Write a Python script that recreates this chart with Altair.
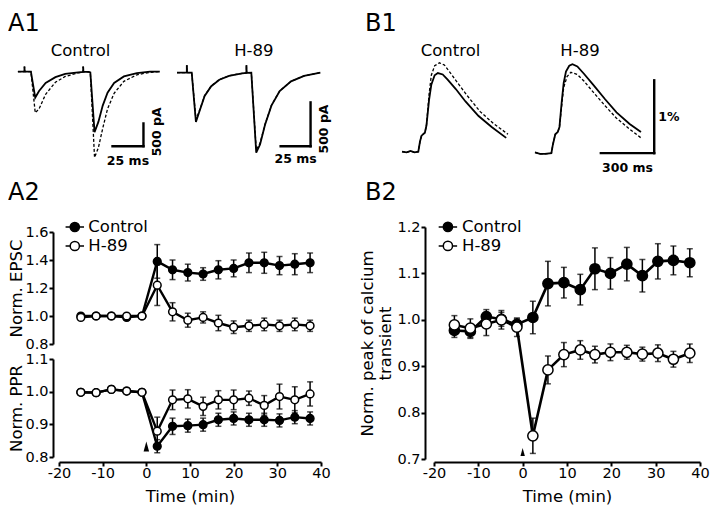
import altair as alt
import pandas as pd

FONT = "DejaVu Sans"

# ---------------- A2 : time course (min) ----------------
time_a2 = [-15, -11.5, -8, -4.5, -1, 2.5, 6, 9.5, 13, 16.5, 20, 23.5, 27, 30.5, 34, 37.5]
epsc_control = [1.00, 1.00, 1.00, 0.99, 1.00, 1.39, 1.33, 1.31, 1.30, 1.33, 1.34, 1.38, 1.38, 1.36, 1.37, 1.38]
epsc_control_err = [0.01, 0.01, 0.01, 0.01, 0.01, 0.12, 0.07, 0.06, 0.045, 0.065, 0.06, 0.07, 0.075, 0.065, 0.075, 0.07]
epsc_h89 = [0.99, 1.00, 1.00, 1.00, 1.00, 1.22, 1.03, 0.97, 0.99, 0.95, 0.92, 0.93, 0.94, 0.93, 0.94, 0.93]
epsc_h89_err = [0.01, 0.01, 0.01, 0.01, 0.01, 0.145, 0.065, 0.05, 0.04, 0.055, 0.045, 0.04, 0.045, 0.04, 0.045, 0.04]

ppr_control = [0.998, 0.997, 1.007, 1.002, 0.998, 0.833, 0.894, 0.896, 0.899, 0.914, 0.918, 0.914, 0.914, 0.912, 0.922, 0.918]
ppr_control_err = [0.004, 0.004, 0.004, 0.004, 0.004, 0.02, 0.025, 0.02, 0.02, 0.02, 0.02, 0.02, 0.02, 0.02, 0.02, 0.02]
ppr_h89 = [0.998, 0.997, 1.007, 1.002, 0.998, 0.879, 0.975, 0.978, 0.955, 0.975, 0.975, 0.980, 0.958, 0.985, 0.975, 0.993]
ppr_h89_err = [0.004, 0.004, 0.004, 0.004, 0.004, 0.043, 0.03, 0.028, 0.028, 0.028, 0.03, 0.022, 0.03, 0.038, 0.04, 0.037]

# ---------------- B2 : time course (min) ----------------
time_b2 = [-15.4, -11.8, -8.2, -4.8, -1.3, 2.3, 5.7, 9.3, 13.0, 16.3, 19.8, 23.5, 27.0, 30.5, 34.0, 37.7]
ca_control = [0.977, 0.975, 1.007, 1.001, 0.990, 1.005, 1.078, 1.080, 1.065, 1.110, 1.100, 1.120, 1.095, 1.126, 1.128, 1.123]
ca_control_err = [0.015, 0.015, 0.015, 0.015, 0.012, 0.035, 0.048, 0.033, 0.033, 0.045, 0.034, 0.036, 0.035, 0.038, 0.031, 0.03]
ca_h89 = [0.989, 0.982, 0.991, 1.000, 0.984, 0.750, 0.892, 0.925, 0.935, 0.925, 0.930, 0.930, 0.926, 0.928, 0.915, 0.928]
ca_h89_err = [0.02, 0.02, 0.025, 0.02, 0.02, 0.038, 0.03, 0.026, 0.02, 0.018, 0.018, 0.015, 0.015, 0.018, 0.017, 0.02]

arrow_time = [0]
arrow_ppr = [0.832]
arrow_ca = [0.715]

# ---------------- A1 : EPSC traces (ms, pA) ----------------
a1c_t = [0, 5.3, 5.3, 5.5, 10.5, 14.0, 17.1, 22.4, 30.3, 38.2, 48.7, 52.7, 52.7, 52.9, 57.1, 58.5,
         61.9, 65.0, 68.5, 72.4, 77.7, 85.6, 96.1, 106.7, 114.6]
a1c_solid = [0, 0, 110, 0, 0, -571, -428, -250, -122, -49, -15, -5, 110, -5, -6, -20,
             -1333, -1106, -749, -464, -250, -107, -36, 0, 0]
a1c_dashed = [0, 0, 110, 0, 0, -905, -820, -499, -235, -107, -30, -8, 110, -8, -8, -25,
              -1890, -1676, -1248, -820, -477, -214, -71, -15, 0]
a1c_bar_t = [76.4, 101.4]
a1c_bar_v = [-1641, -1141]

a1h_t = [0, 8.2, 8.2, 8.4, 12.3, 15.8, 19.0, 23.1, 28.6, 35.4, 43.5, 54.4, 58.0, 58.0, 58.2, 62.1,
         66.2, 69.4, 73.5, 78.9, 85.8, 95.3, 106.2, 119.8]
a1h_solid = [0, 0, 85, 0, 0, -563, -433, -266, -155, -81, -37, -8, -3, 85, -3, 0,
             -914, -821, -599, -377, -211, -100, -37, 0]
a1h_dashed = [0, 0, 85, 0, 0, -535, -425, -262, -152, -79, -36, -8, -3, 85, -3, 0,
              -880, -805, -592, -373, -209, -99, -37, 0]
a1h_bar_t = [86.6, 111.6]
a1h_bar_v = [-840, -340]

# ---------------- B1 : calcium traces (ms, %) ----------------
b1c_t = [0, 25.6, 47.4, 69.2, 91, 100.3, 109, 127.5, 136.3, 151, 163.5, 182, 200, 227, 254.5, 300, 354, 427, 500, 581]
b1c_solid = [0.00, -0.01, 0.01, -0.01, 0.00, 0.14, 0.22, 0.26, 0.36, 0.71, 0.92, 1.05, 1.08, 1.06, 0.99, 0.86, 0.69, 0.49, 0.34, 0.19]
b1c_dashed_t = [0, 25.6, 47.4, 69.2, 91, 100.3, 109, 127.5, 136.3, 151, 163.5, 182, 209, 236.5, 264, 309, 363.5, 436, 509, 591]
b1c_dashed = [0.00, -0.01, 0.01, -0.01, 0.00, 0.14, 0.22, 0.26, 0.36, 0.79, 1.05, 1.18, 1.22, 1.19, 1.10, 0.95, 0.77, 0.55, 0.39, 0.24]

b1h_t = [0, 27.5, 55, 92, 100.7, 114, 128, 137.5, 150, 161, 174, 192.5, 210.5, 238, 275, 330, 394, 458, 532, 595.5]
b1h_solid = [0.01, -0.01, -0.01, 0.0, 0.12, 0.26, 0.29, 0.36, 0.70, 0.96, 1.12, 1.20, 1.22, 1.19, 1.09, 0.93, 0.74, 0.56, 0.40, 0.29]
b1h_dashed_t = [0, 27.5, 55, 92, 100.7, 114, 128, 137.5, 150, 161, 180, 202, 238, 275, 330, 394, 458, 532, 595.5]
b1h_dashed = [0.01, -0.01, -0.01, 0.0, 0.12, 0.26, 0.29, 0.36, 0.65, 0.90, 1.05, 1.11, 1.08, 0.99, 0.83, 0.65, 0.48, 0.33, 0.21]
b1_bar_t = [370, 670]
b1_bar_v = [0.0, 1.0]

x_ticks = [-20, -10, 0, 10, 20, 30, 40]
epsc_ticks = [0.8, 1.0, 1.2, 1.4, 1.6]
ppr_ticks = [0.8, 0.9, 1.0, 1.1]
ca_ticks = [0.7, 0.8, 0.9, 1.0, 1.1, 1.2]

LEG_PATH = "M-1,0H-0.5M0.5,0H1M-0.5,0A0.5,0.5,0,1,1,0.5,0A0.5,0.5,0,1,1,-0.5,0Z"
TRI_PATH = "M0,-1L0.55,1L-0.55,1Z"


def tc_frame(t, c, ce, h, he):
    rows = []
    for cond, vals, errs in (("Control", c, ce), ("H-89", h, he)):
        for ti, v, e in zip(t, vals, errs):
            rows.append({"t": ti, "v": v, "lo": v - e, "hi": v + e, "cond": cond})
    return pd.DataFrame(rows)


def make_axis(**kw):
    base = dict(domainColor="black", domainWidth=2, tickColor="black", tickWidth=2, tickSize=4,
                labelFont=FONT, labelFontSize=14.5, labelColor="black", labelPadding=1, labelFlush=False,
                titleFont=FONT, titleFontSize=16.5, titleFontWeight="normal", titleColor="black",
                grid=False)
    base.update(kw)
    return alt.Axis(**base)


def x_axis(offset):
    return make_axis(values=x_ticks, labelExpr="datum.value", offset=offset, labelPadding=0,
                     title="Time (min)", titlePadding=9)


def panel_title(text, dx, offset, size=24, anchor="start"):
    return alt.TitleParams(text, anchor=anchor, frame="group", dx=dx, offset=offset, baseline="alphabetic",
                           font=FONT, fontSize=size, fontWeight="normal", color="black")


def time_chart(df, ydom, yaxis, xaxis, width, height, ptsize, lw, legend, arrow_v, arrow_size, title=None):
    xenc = alt.X("t:Q", scale=alt.Scale(domain=[-20, 40], nice=False, zero=False), axis=xaxis)

    def yenc(field):
        return alt.Y(f"{field}:Q", scale=alt.Scale(domain=ydom, nice=False, zero=False), axis=yaxis)

    base = alt.Chart(df)
    bars = base.mark_rule(color="black", strokeWidth=1.5).encode(x=xenc, y=yenc("lo"), y2="hi:Q", detail="cond:N")
    caps = base.transform_fold(["lo", "hi"], as_=["end", "cap"]).mark_tick(
        orient="horizontal", color="black", size=6, thickness=1.5).encode(x=xenc, y=yenc("cap"), detail="cond:N")
    line = base.mark_line(color="black", strokeWidth=lw).encode(x=xenc, y=yenc("v"), detail="cond:N")
    pts = base.mark_point(shape="circle", filled=True, stroke="black", strokeWidth=1.5, size=ptsize, opacity=1).encode(
        x=xenc, y=yenc("v"),
        fill=alt.Fill("cond:N", scale=alt.Scale(domain=["Control", "H-89"], range=["black", "white"]), legend=legend))
    arrow = alt.Chart(pd.DataFrame({"t": arrow_time, "v": arrow_v})).mark_point(
        shape=TRI_PATH, filled=True, color="black", size=arrow_size, opacity=1).encode(x=xenc, y=yenc("v"))
    ch = alt.layer(bars, caps, line, pts, arrow).properties(width=width, height=height)
    if title is not None:
        ch = ch.properties(title=title)
    return ch


def trace_panel(ts, vs, td, vd, xdom, width, ydom, height, title, xrange=None, bar=None):
    solid = pd.DataFrame({"t": ts, "v": vs, "i": list(range(len(ts)))})
    dashed = pd.DataFrame({"t": td, "v": vd, "i": list(range(len(td)))})
    sc = dict(domain=xdom, nice=False, zero=False)
    if xrange is not None:
        sc["range"] = xrange
    x = alt.X("t:Q", scale=alt.Scale(**sc), axis=None)
    y = alt.Y("v:Q", scale=alt.Scale(domain=ydom, nice=False, zero=False), axis=None)
    layers = [
        alt.Chart(dashed).mark_line(color="black", strokeWidth=1.3, strokeDash=[3, 2]).encode(x=x, y=y, order="i:Q"),
        alt.Chart(solid).mark_line(color="black", strokeWidth=1.8).encode(x=x, y=y, order="i:Q"),
    ]
    if bar is not None:
        bt, bv, hlabel, vlabel, hdy, vdx, vshift, rotate = bar
        hbar = pd.DataFrame({"t": [bt[0]], "t2": [bt[1]], "v": [bv[0]]})
        vbar = pd.DataFrame({"t": [bt[1]], "v": [bv[0]], "v2": [bv[1]]})
        layers.append(alt.Chart(hbar).mark_rule(color="black", strokeWidth=2.4, strokeCap="square").encode(x=x, x2="t2:Q", y=y))
        layers.append(alt.Chart(vbar).mark_rule(color="black", strokeWidth=2.4, strokeCap="square").encode(x=x, y=y, y2="v2:Q"))
        hl = pd.DataFrame({"t": [(bt[0] + bt[1]) / 2], "v": [bv[0]], "label": [hlabel]})
        vl = pd.DataFrame({"t": [bt[1]], "v": [(bv[0] + bv[1]) / 2], "label": [vlabel]})
        layers.append(alt.Chart(hl).mark_text(font=FONT, fontSize=12.5, fontWeight="bold", color="black",
                                              align="center", baseline="middle", dy=hdy).encode(x=x, y=y, text="label:N"))
        if rotate:
            layers.append(alt.Chart(vl).mark_text(font=FONT, fontSize=12.5, fontWeight="bold", color="black",
                                                  align="center", baseline="middle", angle=270, dy=vdx, dx=vshift).encode(x=x, y=y, text="label:N"))
        else:
            layers.append(alt.Chart(vl).mark_text(font=FONT, fontSize=12.5, fontWeight="bold", color="black",
                                                  align="center", baseline="middle", dx=vdx).encode(x=x, y=y, text="label:N"))
    return alt.layer(*layers).properties(width=width, height=height, title=title)


IND = dict(x="independent", y="independent", fill="independent")

# ---------------- A1 ----------------
a1c = trace_panel(a1c_t, a1c_solid, a1c_t, a1c_dashed, [0, 115], 101, [-2033, 321], 107,
                  panel_title("Control", -29, -15, 16.5, "middle"), xrange=[-41.1, 101.3],
                  bar=(a1c_bar_t, a1c_bar_v, "25 ms", "500 pA", 14.5, 13.1, 3, True))
a1h = trace_panel(a1h_t, a1h_solid, a1h_t, a1h_dashed, [0, 125], 149.6, [-1043, 178], 107,
                  panel_title("H-89", 2, -15, 16.5, "middle"),
                  bar=(a1h_bar_t, a1h_bar_v, "25 ms", "500 pA", 12.9, 13.1, -4.7, True))
a1row = alt.hconcat(a1c, a1h, spacing=9, title=panel_title("A1", -51, -12.3)).resolve_scale(**IND)

# ---------------- A2 ----------------
legendA = alt.Legend(orient="none", legendX=5.8, legendY=-15, title=None, symbolType=LEG_PATH, symbolSize=340,
                     symbolStrokeColor="black", symbolStrokeWidth=1.5, symbolOpacity=1,
                     labelFont=FONT, labelFontSize=16.5, labelColor="black", labelOffset=3.5,
                     rowPadding=0, padding=0, offset=0)
epsc = time_chart(
    tc_frame(time_a2, epsc_control, epsc_control_err, epsc_h89, epsc_h89_err),
    [0.8, 1.6], make_axis(values=epsc_ticks, format=".1f", offset=6, title="Norm. EPSC", titlePadding=0),
    None, 262, 112, 60, 2.4, legendA, [None], 1, title=panel_title("A2", -51, -7))
ppr = time_chart(
    tc_frame(time_a2, ppr_control, ppr_control_err, ppr_h89, ppr_h89_err),
    [0.8, 1.1], make_axis(values=ppr_ticks, format=".1f", offset=6, title="Norm. PPR", titlePadding=0),
    x_axis(5), 262, 98, 60, 2.4, None, arrow_ppr, 100)
a2col = alt.vconcat(epsc, ppr, spacing=0).resolve_scale(**IND)
colA = alt.vconcat(a1row, a2col, spacing=13).resolve_scale(**IND)

# ---------------- B1 ----------------
b1c = trace_panel(b1c_t, b1c_solid, b1c_dashed_t, b1c_dashed, [0, 600], 75, [-0.1, 1.3], 102,
                  panel_title("Control", -21, -15, 16.5, "middle"), xrange=[-32.0, 75.6])
b1h = trace_panel(b1h_t, b1h_solid, b1h_dashed_t, b1h_dashed, [0, 680], 121, [-0.08, 1.32], 102,
                  panel_title("H-89", -15.5, -15, 16.5, "middle"),
                  bar=(b1_bar_t, b1_bar_v, "300 ms", "1%", 15.2, 14.7, 0, False))
b1row = alt.hconcat(b1c, b1h, spacing=20, title=panel_title("B1", -69, -12.3)).resolve_scale(**IND)

# ---------------- B2 ----------------
legendB = alt.Legend(orient="none", legendX=3.9, legendY=-10.1, title=None, symbolType=LEG_PATH, symbolSize=340,
                     symbolStrokeColor="black", symbolStrokeWidth=1.5, symbolOpacity=1,
                     labelFont=FONT, labelFontSize=16.5, labelColor="black", labelOffset=4.1,
                     rowPadding=0, padding=0, offset=0)
b2 = time_chart(
    tc_frame(time_b2, ca_control, ca_control_err, ca_h89, ca_h89_err),
    [0.7, 1.2], make_axis(values=ca_ticks, format=".1f", offset=9,
                          title=["Norm. peak of calcium", "transient"], titlePadding=3, titleLineHeight=18),
    x_axis(3), 266, 232, 104, 2.6, legendB, arrow_ca, 64, title=panel_title("B2", -69, -7))
colB = alt.vconcat(b1row, b2, spacing=5).resolve_scale(**IND)

chart = (
    alt.hconcat(colA, colB, spacing=28)
    .resolve_scale(**IND)
    .properties(padding={"top": 3, "left": 0, "right": 0, "bottom": 0}, background="white")
    .configure_view(stroke=None)
)

chart.save("out.html", embed_options={"renderer": "svg", "actions": False})
